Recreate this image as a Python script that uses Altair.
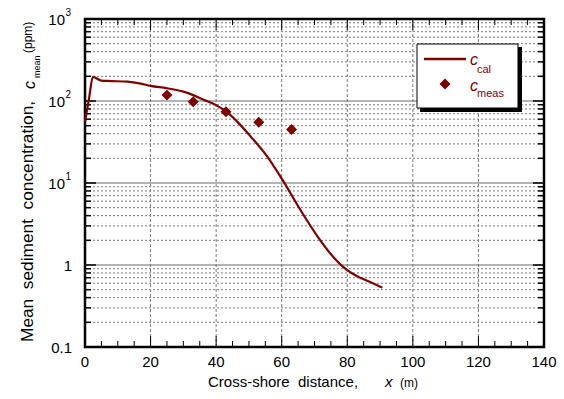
import altair as alt
import pandas as pd

FONT = "Liberation Sans"
RED = "#800000"
W, H = 459, 328
NB = "\u00a0"

# ---- data ----
curve_x = [0, 1.2, 2.4, 5, 8, 13, 17, 20, 25, 30, 33, 36, 40, 43.3, 47, 50.5,
           55.6, 60.2, 65.7, 70.9, 76, 79, 83, 87, 90.7]
curve_c = [56, 105, 197, 177, 175, 172, 163, 153, 143, 130, 118, 104, 89, 73, 53,
           37, 21, 11, 4.7, 2.24, 1.22, 0.93, 0.73, 0.62, 0.53]
meas_x = [25, 33, 43, 53, 63]
meas_c = [118, 98, 74, 55, 45]

x_labels = [0, 20, 40, 60, 80, 100, 120, 140]
x_grid = [20, 40, 60, 80, 100, 120]
x_minor = [v for v in range(5, 140, 5) if v % 20 != 0]
x_major_ticks = [20, 40, 60, 80, 100, 120]

y_decade_lines = [1, 10, 100]
y_minor = [m * d for d in [0.1, 1, 10, 100] for m in range(2, 10)]
y_sup_vals = [10, 100, 1000]
y_sup_exp = ["1", "2", "3"]
y_plain_vals = [0.1, 1]
y_plain_txt = ["0.1", "1"]

xs = alt.Scale(domain=[0, 140], nice=False, zero=False)
ys = alt.Scale(type="log", domain=[0.1, 1000], nice=False)

df_curve = pd.DataFrame({"x": curve_x, "c": curve_c})
df_meas = pd.DataFrame({"x": meas_x, "c": meas_c})
df_xgrid = pd.DataFrame({"x": x_grid})
df_xlab = pd.DataFrame({"x": x_labels, "t": [str(v) for v in x_labels]})
df_xminor = pd.DataFrame({"x": x_minor})
df_xmajor = pd.DataFrame({"x": x_major_ticks})
df_ymin = pd.DataFrame({"y": y_minor})
df_ymaj = pd.DataFrame({"y": y_decade_lines})
df_ysup = pd.DataFrame({"y": y_sup_vals, "b": ["10"] * 3, "e": y_sup_exp})
df_yplain = pd.DataFrame({"y": y_plain_vals, "t": y_plain_txt})

X = lambda f="x": alt.X(f + ":Q", scale=xs, axis=None)
Y = lambda f="y": alt.Y(f + ":Q", scale=ys, axis=None)

vgrid = alt.Chart(df_xgrid).mark_rule(color="#7a7a7a", strokeDash=[3, 2], strokeWidth=1).encode(
    x=X(), y=alt.value(0), y2=alt.value(H))
hminor = alt.Chart(df_ymin).mark_rule(color="#7a7a7a", strokeDash=[2, 2], strokeWidth=1).encode(
    y=Y(), x=alt.value(0), x2=alt.value(W))
hmajor = alt.Chart(df_ymaj).mark_rule(color="#6a6a6a", strokeWidth=1.2).encode(
    y=Y(), x=alt.value(0), x2=alt.value(W))

# inward ticks
lt_min = alt.Chart(df_ymin).mark_rule(color="black", strokeWidth=1.5).encode(
    y=Y(), x=alt.value(0), x2=alt.value(6))
rt_min = alt.Chart(df_ymin).mark_rule(color="black", strokeWidth=1.5).encode(
    y=Y(), x=alt.value(W - 6), x2=alt.value(W))
lt_maj = alt.Chart(df_ymaj).mark_rule(color="black", strokeWidth=1.5).encode(
    y=Y(), x=alt.value(0), x2=alt.value(11))
rt_maj = alt.Chart(df_ymaj).mark_rule(color="black", strokeWidth=1.5).encode(
    y=Y(), x=alt.value(W - 11), x2=alt.value(W))
bt_min = alt.Chart(df_xminor).mark_rule(color="black", strokeWidth=1).encode(
    x=X(), y=alt.value(H - 6), y2=alt.value(H))
tp_min = alt.Chart(df_xminor).mark_rule(color="black", strokeWidth=1).encode(
    x=X(), y=alt.value(0), y2=alt.value(6))
bt_maj = alt.Chart(df_xmajor).mark_rule(color="black", strokeWidth=1).encode(
    x=X(), y=alt.value(H - 11), y2=alt.value(H))
tp_maj = alt.Chart(df_xmajor).mark_rule(color="black", strokeWidth=1).encode(
    x=X(), y=alt.value(0), y2=alt.value(11))

curve = alt.Chart(df_curve).mark_line(color=RED, strokeWidth=2.2, interpolate="monotone").encode(
    x=X(), y=Y("c"))
meas = alt.Chart(df_meas).mark_point(shape="diamond", filled=True, color=RED, size=120, opacity=1).encode(
    x=X(), y=Y("c"))

# tick labels
xlab = alt.Chart(df_xlab).mark_text(font=FONT, fontSize=15, color="black", baseline="alphabetic", align="center").encode(
    x=X(), y=alt.value(H + 20), text="t:N")
ylab_base = alt.Chart(df_ysup).mark_text(font=FONT, fontSize=15, color="black", baseline="alphabetic", align="right", dy=5.5).encode(
    y=Y(), x=alt.value(-20), text="b:N")
ylab_exp = alt.Chart(df_ysup).mark_text(font=FONT, fontSize=10, color="black", baseline="alphabetic", align="left", dy=-3).encode(
    y=Y(), x=alt.value(-19.5), text="e:N")
ylab_plain = alt.Chart(df_yplain).mark_text(font=FONT, fontSize=15, color="black", baseline="alphabetic", align="right", dy=5.5).encode(
    y=Y(), x=alt.value(-13), text="t:N")

def txt(s, x, y, size, italic=False, angle=0, color="black", align="left"):
    kw = dict(font=FONT, fontSize=size, color=color, baseline="alphabetic", align=align, text=s)
    if italic:
        kw["fontStyle"] = "italic"
    if angle:
        kw["angle"] = angle
    return alt.Chart(pd.DataFrame({"a": [0]})).mark_text(**kw).encode(x=alt.value(x), y=alt.value(y))

# axis titles
xt1 = txt("Cross-shore" + NB + NB + "distance,", 123, 368, 15)
xt2 = txt("x", 300, 368, 15, italic=True)
xt3 = txt("(m)", 315, 368, 12)
yt1 = txt("Mean" + NB + NB + "sediment" + NB + NB + "concentration,", -52, 323, 17.3, angle=270)
yt2 = txt("c", -50, 70, 16, italic=True, angle=270)
yt3 = txt("mean", -45, 59, 9, angle=270)
yt4 = txt("(ppm)", -53.5, 34, 12, angle=270)

# legend box
df_one = pd.DataFrame({"a": [0]})
shadow = alt.Chart(df_one).mark_rect(color="black").encode(
    x=alt.value(335), x2=alt.value(437), y=alt.value(28), y2=alt.value(93))
box = alt.Chart(df_one).mark_rect(fill="white", stroke="black", strokeWidth=1).encode(
    x=alt.value(332), x2=alt.value(433), y=alt.value(25), y2=alt.value(89))
leg_line = alt.Chart(df_one).mark_rule(color=RED, strokeWidth=2.5).encode(
    x=alt.value(339), x2=alt.value(381), y=alt.value(40))
leg_pt = alt.Chart(df_one).mark_point(shape="diamond", filled=True, color=RED, size=120, opacity=1).encode(
    x=alt.value(360), y=alt.value(65))
lg1 = txt("c", 385, 46, 16, italic=True, color=RED)
lg2 = txt("cal", 392, 54, 11, color=RED)
lg3 = txt("c", 385, 72, 16, italic=True, color=RED)
lg4 = txt("meas", 392, 78, 11, color=RED)

chart = alt.layer(
    vgrid, hminor, hmajor,
    lt_min, rt_min, lt_maj, rt_maj, bt_min, tp_min, bt_maj, tp_maj,
    curve, meas,
    xlab, ylab_base, ylab_exp, ylab_plain,
    xt1, xt2, xt3, yt1, yt2, yt3, yt4,
    shadow, box, leg_line, leg_pt, lg1, lg2, lg3, lg4,
).properties(
    width=W, height=H,
    autosize=alt.AutoSizeParams(type="none"),
    padding={"left": 85, "top": 19, "right": 20, "bottom": 52},
).configure_view(stroke="black", strokeWidth=2.5)

chart.save("out.html", embed_options={"renderer": "svg", "actions": False})
